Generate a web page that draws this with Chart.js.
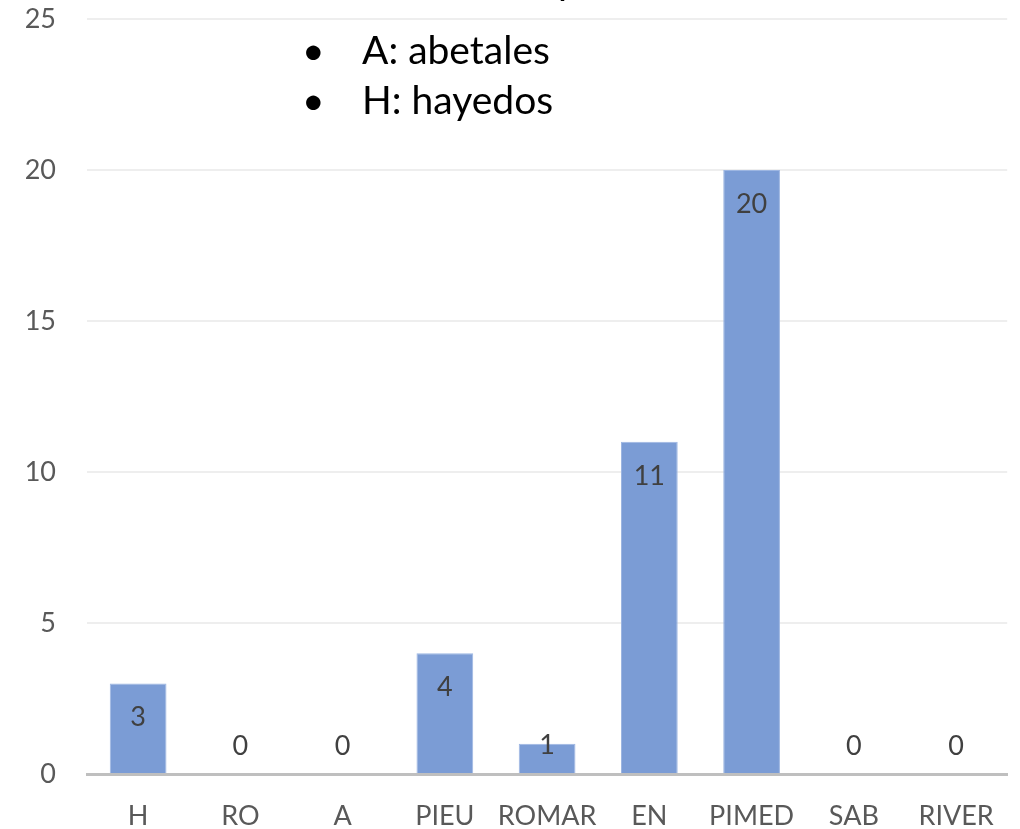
<!DOCTYPE html>
<html>
<head>
<meta charset="utf-8">
<script src="https://cdn.jsdelivr.net/npm/chart.js@4/dist/chart.umd.min.js"></script>
<style>
  html, body { margin: 0; padding: 0; background: #fff; }
  #wrap { width: 1020px; height: 829px; }
</style>
</head>
<body>
<div id="wrap"><canvas id="chart" width="1020" height="829"></canvas></div>
<script>
// datos del gráfico
const categories = ['H', 'RO', 'A', 'PIEU', 'ROMAR', 'EN', 'PIMED', 'SAB', 'RIVER'];
const values = [3, 0, 0, 4, 1, 11, 20, 0, 0];
const yTicks = [0, 5, 10, 15, 20, 25];
const notes = ['A: abetales', 'H: hayedos'];
const cutTitle = 'p';

const FONT = "Lato, 'Liberation Sans', sans-serif";

// etiquetas de datos (extremo interno)
const dataLabels = {
    id: 'dataLabels',
    afterDatasetsDraw(chart) {
        const ctx = chart.ctx;
        const meta = chart.getDatasetMeta(0);
        ctx.save();
        ctx.font = '27px ' + FONT;
        ctx.fillStyle = '#404040';
        ctx.textAlign = 'center';
        ctx.textBaseline = 'middle';
        meta.data.forEach((bar, i) => {
            const y = Math.min(bar.y + 34, bar.base - 28);
            ctx.fillText(String(values[i]), bar.x, y);
        });
        ctx.restore();
    }
};

// texto superpuesto (lista con viñetas)
const overlayText = {
    id: 'overlayText',
    afterDraw(chart) {
        const ctx = chart.ctx;
        ctx.save();
        ctx.font = '39px ' + FONT;
        ctx.fillStyle = '#000';
        ctx.textBaseline = 'alphabetic';
        ctx.fillText(cutTitle, 558, -6);
        notes.forEach((t, i) => {
            const y = 64 + i * 50;
            ctx.fillText('•', 302, y);
            ctx.fillText(t, 362, y);
        });
        ctx.restore();
    }
};

new Chart(document.getElementById('chart'), {
    type: 'bar',
    data: {
        labels: categories,
        datasets: [{
            data: values,
            backgroundColor: '#7b9cd5',
            borderColor: '#9db6e2',
            borderWidth: 1,
            barPercentage: 0.555,
            categoryPercentage: 1
        }]
    },
    options: {
        responsive: false,
        animation: false,
        layout: { padding: { top: 19, right: 5, left: 0, bottom: 0 } },
        plugins: {
            legend: { display: false },
            tooltip: { enabled: false }
        },
        scales: {
            x: {
                grid: { display: false, drawTicks: false },
                border: { color: '#bfbfbf', width: 3 },
                ticks: {
                    color: '#595959',
                    font: { family: FONT, size: 27 },
                    padding: 26,
                    maxRotation: 0,
                    autoSkip: false
                },
                afterFit(scale) { scale.height = 55; }
            },
            y: {
                min: 0,
                max: 25,
                afterBuildTicks(scale) {
                    scale.ticks = yTicks.map(v => ({ value: v }));
                },
                grid: {
                    color: ctx => ctx.tick && ctx.tick.value === 0 ? 'rgba(0,0,0,0)' : '#eeeeee',
                    lineWidth: 2,
                    drawTicks: false
                },
                border: { display: false },
                ticks: {
                    color: '#595959',
                    font: { family: FONT, size: 27 },
                    padding: 31
                },
                afterFit(scale) {
                    scale.width = 87;
                    scale.paddingTop = 0;
                    scale.paddingBottom = 0;
                }
            }
        }
    },
    plugins: [dataLabels, overlayText]
});
</script>
</body>
</html>
